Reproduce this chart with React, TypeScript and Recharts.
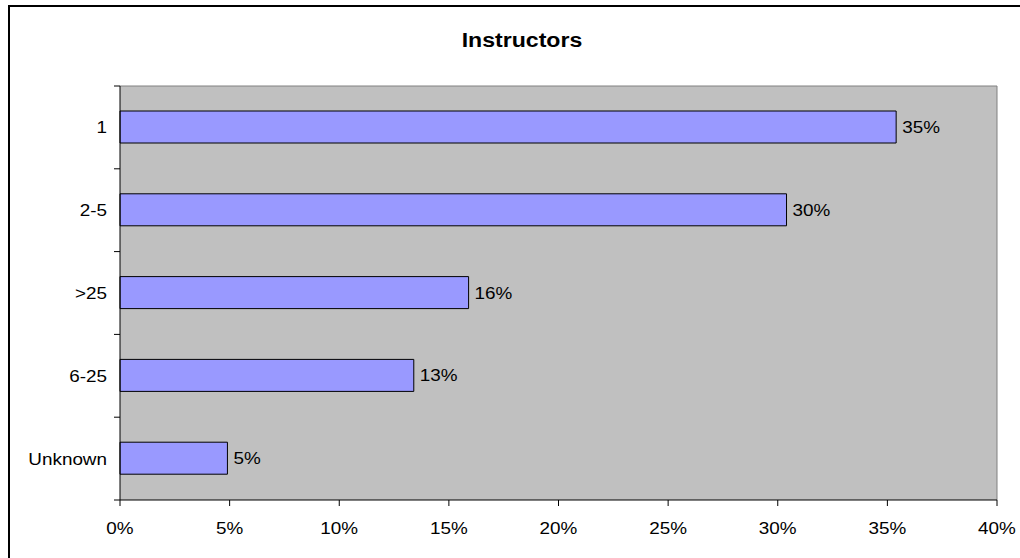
import React from "react";
import { BarChart, Bar, XAxis, YAxis, CartesianGrid, LabelList } from "recharts";

const categories = ["1", "2-5", ">25", "6-25", "Unknown"];
const values = [0.354, 0.304, 0.159, 0.134, 0.049];
const xTicks = [0, 0.05, 0.1, 0.15, 0.2, 0.25, 0.3, 0.35, 0.4];
const title = "Instructors";

const data = categories.map((c, i) => ({ name: c, value: values[i] }));

const W = 1020;
const H = 558;
const MARGIN = { top: 86, right: 23, bottom: 28, left: 20 };
const X_AXIS_H = 30;
const Y_AXIS_W = 100;
const PLOT_H = H - MARGIN.top - MARGIN.bottom - X_AXIS_H;
const FONT = "'Liberation Sans', Arial, sans-serif";
const SX = 1.18;
const TICK_SIZE = 6;
const Y_TICK_MARGIN = 7;

const pct = (v: number) => `${Math.round(v * 100)}%`;

const XTick = (props: any) => {
  const { x, y, payload } = props;
  return (
    <g transform={`translate(${x},${y + 26}) scale(${SX},1)`}>
      <text x={0} y={0} textAnchor="middle" fontFamily={FONT} fontSize={16} fill="#000">
        {pct(payload.value)}
      </text>
    </g>
  );
};

const YTick = (props: any) => {
  const { x, y, payload, index } = props;
  const axisX = x + TICK_SIZE + Y_TICK_MARGIN;
  const band = PLOT_H / categories.length;
  return (
    <g>
      <line x1={axisX - TICK_SIZE} x2={axisX} y1={y - band / 2} y2={y - band / 2} stroke="#000" />
      {index === categories.length - 1 && (
        <line x1={axisX - TICK_SIZE} x2={axisX} y1={y + band / 2} y2={y + band / 2} stroke="#000" />
      )}
      <g transform={`translate(${x},${y + 6}) scale(${SX},1)`}>
        <text x={0} y={0} textAnchor="end" fontFamily={FONT} fontSize={16} fill="#000">
          {payload.value}
        </text>
      </g>
    </g>
  );
};

const BarLabel = (props: any) => {
  const { x, y, width, height, value } = props;
  return (
    <g transform={`translate(${x + width + 6},${y + height / 2 + 6}) scale(${SX},1)`}>
      <text x={0} y={0} textAnchor="start" fontFamily={FONT} fontSize={16} fill="#000">
        {pct(value)}
      </text>
    </g>
  );
};

export default function App() {
  return (
    <div style={{ position: "absolute", left: 0, top: 0, width: W, height: H, overflow: "hidden", background: "#fff" }}>
      <div
        style={{
          position: "absolute",
          left: 8,
          top: 5,
          width: W + 20,
          height: H + 20,
          border: "2px solid #000",
          boxSizing: "border-box",
        }}
      />
      <svg style={{ position: "absolute", left: 0, top: 0 }} width={W} height={80}>
        <g transform={`translate(522,47) scale(1.1,1)`}>
          <text x={0} y={0} textAnchor="middle" fontFamily={FONT} fontSize={21} fontWeight="bold" fill="#000">
            {title}
          </text>
        </g>
      </svg>
      <div style={{ position: "absolute", left: 0, top: 0 }}>
        <BarChart width={W} height={H} data={data} layout="vertical" margin={MARGIN}>
          <CartesianGrid
            fill="#C0C0C0"
            stroke="#808080"
            horizontalCoordinatesGenerator={({ offset }: any) => [offset.top]}
            verticalCoordinatesGenerator={({ offset }: any) => [offset.left + offset.width]}
          />
          <XAxis
            type="number"
            domain={[0, 0.4]}
            ticks={xTicks}
            height={X_AXIS_H}
            axisLine={{ stroke: "#000" }}
            tickLine={{ stroke: "#000" }}
            tickSize={TICK_SIZE}
            tick={<XTick />}
            interval={0}
          />
          <YAxis
            type="category"
            dataKey="name"
            width={Y_AXIS_W}
            axisLine={{ stroke: "#000" }}
            tickLine={false}
            tickSize={TICK_SIZE}
            tickMargin={Y_TICK_MARGIN}
            tick={<YTick />}
            interval={0}
          />
          <Bar dataKey="value" fill="#9999FF" stroke="#000" strokeWidth={1} barSize={32} isAnimationActive={false}>
            <LabelList dataKey="value" content={<BarLabel />} />
          </Bar>
        </BarChart>
      </div>
    </div>
  );
}
